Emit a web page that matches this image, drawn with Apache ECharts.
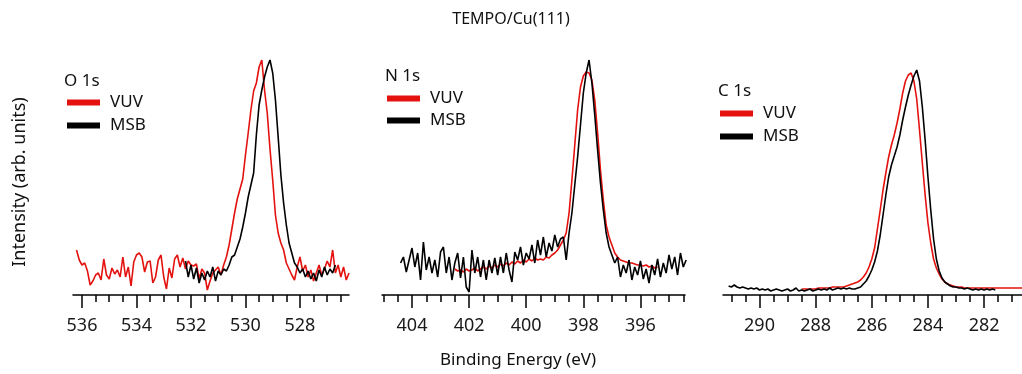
<!DOCTYPE html>
<html>
<head>
<meta charset="utf-8">
<script src="https://cdn.jsdelivr.net/npm/echarts@6/dist/echarts.min.js"></script>
<style>
  html, body { margin: 0; padding: 0; background: #fff; }
  #chart { width: 1022px; height: 374px; }
</style>
</head>
<body>
<div id="chart"></div>
<script>
// sampling step of the spectra (eV)
const step = 0.1;

// O 1s
const o1sVuvStart = 536.2;
const o1sVuv = [45, 35, 30, 32, 24, 10, 14, 20, 22, 15, 36, 20, 16, 27, 21, 25, 18, 38, 18, 28,
  9, 33, 40, 42, 38, 23, 33, 34, 12, 18, 35, 40, 18, 6, 27, 17, 36, 40, 28, 37,
  26, 34, 30, 29, 31, 16, 26, 22, 5, 14, 22, 25, 28, 20, 30, 38, 50, 66, 82, 96,
  106, 116, 140, 162, 185, 204, 212, 228, 235, 205, 182, 146, 115, 80, 62, 52, 45, 32, 26, 20,
  15, 28, 38, 24, 30, 18, 25, 14, 22, 30, 20, 26, 34, 28, 45, 22, 30, 18, 28, 15, 22];
const o1sMsbStart = 532.2;
const o1sMsb = [34, 18, 30, 16, 27, 12, 22, 15, 24, 18, 28, 14, 24, 20, 26, 24, 30, 38, 40, 48,
  56, 68, 82, 98, 110, 122, 160, 190, 205, 218, 228, 235, 222, 195, 158, 120, 92, 70, 52, 42,
  32, 28, 22, 26, 18, 24, 16, 22, 14, 25, 18, 28, 20, 26, 22, 30];

// N 1s
const n1sVuvStart = 402.5;
const n1sVuv = [26, 24, 25, 23, 26, 24, 25, 27, 24, 26, 28, 26, 29, 27, 30, 28, 31, 29, 32, 30,
  33, 31, 34, 32, 35, 33, 36, 34, 37, 35, 36, 35, 38, 37, 40, 42, 45, 50, 55, 62,
  82, 115, 150, 185, 208, 219, 223, 222, 215, 195, 162, 125, 95, 70, 58, 50, 42, 38, 35, 34,
  33, 32, 32, 31, 30, 30, 29, 30, 28, 29, 27, 28];
const n1sMsbStart = 404.4;
const n1sMsb = [32, 38, 23, 35, 47, 28, 42, 15, 53, 25, 38, 22, 35, 18, 43, 48, 22, 38, 15, 32,
  42, 17, 38, 8, 3, 45, 22, 38, 18, 35, 15, 35, 22, 37, 20, 38, 22, 42, 25, 13,
  43, 35, 48, 30, 42, 36, 50, 32, 55, 40, 58, 38, 52, 44, 60, 48, 56, 58, 35, 62,
  82, 110, 138, 170, 202, 222, 235, 212, 180, 145, 112, 85, 62, 48, 40, 32, 38, 18, 30, 22,
  35, 15, 28, 20, 34, 16, 26, 12, 30, 20, 36, 18, 32, 22, 40, 26, 38, 20, 42, 28, 35];

// C 1s
const c1sVuvStart = 288.5;
const c1sVuv = [6, 6, 6, 6, 6, 6, 7, 7, 7, 7, 7, 8, 8, 8, 8, 8, 9, 10, 11, 12,
  13, 15, 18, 22, 28, 36, 47, 66, 85, 105, 122, 138, 150, 160, 172, 186, 202, 214, 220, 222,
  214, 196, 165, 132, 100, 72, 52, 36, 27, 21, 16, 13, 11, 10, 9, 8, 8, 8, 7, 7,
  7, 7, 7, 7, 7, 7, 7, 7, 7, 7, 7, 7, 7, 7, 7, 7, 7, 7, 7, 7];
const c1sMsbStart = 291.1;
const c1sMsb = [9, 8, 10, 8, 7, 8, 7, 6, 7, 6, 7, 5, 6, 5, 6, 4, 5, 6, 5, 4,
  5, 6, 4, 5, 7, 4, 5, 4, 5, 6, 4, 5, 6, 5, 6, 5, 7, 5, 6, 7,
  6, 7, 6, 7, 6, 6, 7, 8, 11, 14, 19, 25, 33, 44, 60, 80, 100, 118, 130, 139,
  148, 160, 175, 188, 200, 210, 219, 225, 214, 188, 155, 118, 85, 56, 36, 24, 17, 13, 11, 9,
  8, 8, 7, 7, 6, 7, 6, 5, 6, 5, 6, 5, 6, 5, 6, 5];

// axis ticks
const o1sMajor = [536, 534, 532, 530, 528];
const o1sMinor = [535.5, 535, 534.5, 533.5, 533, 532.5, 531.5, 531, 530.5, 529.5, 529, 528.5, 527.5, 527, 526.5];
const n1sMajor = [404, 402, 400, 398, 396];
const n1sMinor = [405, 404.5, 403.5, 403, 402.5, 401.5, 401, 400.5, 399.5, 399, 398.5, 397.5, 397, 396.5, 395.5, 395, 394.5];
const c1sMajor = [290, 288, 286, 284, 282];
const c1sMinor = [291, 290.5, 289.5, 289, 288.5, 287.5, 287, 286.5, 285.5, 285, 284.5, 283.5, 283, 282.5, 281.5, 281];

const font = 'Noto Sans';
const red = '#e3120f';
const black = '#000000';

function toPairs(start, values) {
  return values.map((v, i) => [+(start - i * step).toFixed(2), v]);
}

const panels = [
  { label: 'O 1s', min: 526.2, max: 536.33, left: 73, right: 673, major: o1sMajor, minor: o1sMinor,
    vuv: toPairs(o1sVuvStart, o1sVuv), msb: toPairs(o1sMsbStart, o1sMsb),
    labelPos: [64, 73], legendPos: [67, 94], legendGap: 6 },
  { label: 'N 1s', min: 394.44, max: 405.05, left: 382, right: 337, major: n1sMajor, minor: n1sMinor,
    vuv: toPairs(n1sVuvStart, n1sVuv), msb: toPairs(n1sMsbStart, n1sMsb),
    labelPos: [385, 68], legendPos: [387, 90], legendGap: 5 },
  { label: 'C 1s', min: 280.65, max: 291.3, left: 723, right: 0, major: c1sMajor, minor: c1sMinor,
    vuv: toPairs(c1sVuvStart, c1sVuv), msb: toPairs(c1sMsbStart, c1sMsb),
    labelPos: [718, 83], legendPos: [720, 105], legendGap: 6 },
];

const grid = [], xAxis = [], yAxis = [], series = [], legend = [];
const title = [{
  text: 'TEMPO/Cu(111)', left: 'center', top: 11, padding: 0,
  textStyle: { fontFamily: font, fontSize: 16, fontWeight: 'normal', color: '#111' }
}, {
  text: 'Binding Energy (eV)', left: 440, top: 352, padding: 0,
  textStyle: { fontFamily: font, fontSize: 17, fontWeight: 'normal', color: '#111' }
}];

panels.forEach((p, i) => {
  grid.push({ left: p.left, right: p.right, top: 55, bottom: 79 });
  // main axis: line, major ticks, labels
  xAxis.push({
    type: 'value', gridIndex: i, position: 'bottom', inverse: true, min: p.min, max: p.max,
    axisLine: { show: true, onZero: false, lineStyle: { color: '#000', width: 1.5 } },
    axisTick: { show: true, length: 13, customValues: p.major, lineStyle: { color: '#000', width: 1.5 } },
    axisLabel: { show: true, customValues: p.major, margin: 22, fontFamily: font, fontSize: 18, color: '#1a1a1a' },
    splitLine: { show: false }
  });
  // minor ticks
  xAxis.push({
    type: 'value', gridIndex: i, position: 'bottom', inverse: true, min: p.min, max: p.max,
    axisLine: { show: false, onZero: false },
    axisTick: { show: true, length: 7, customValues: p.minor, lineStyle: { color: '#000', width: 1.5 } },
    axisLabel: { show: false },
    splitLine: { show: false }
  });
  yAxis.push({ type: 'value', gridIndex: i, min: 0, max: 240, show: false });

  series.push({
    name: 'VUV', type: 'line', xAxisIndex: i * 2, yAxisIndex: i, data: p.vuv,
    showSymbol: false, lineStyle: { color: red, width: 1.6 }, itemStyle: { color: red }, z: 2
  });
  series.push({
    name: 'MSB', type: 'line', xAxisIndex: i * 2, yAxisIndex: i, data: p.msb,
    showSymbol: false, lineStyle: { color: black, width: 1.6 }, itemStyle: { color: black }, z: 3
  });

  title.push({
    text: p.label, left: p.labelPos[0], top: p.labelPos[1], padding: 0,
    textStyle: { fontFamily: font, fontSize: 17, fontWeight: 'normal', color: '#111' }
  });
  legend.push({
    data: ['VUV', 'MSB'], orient: 'vertical', left: p.legendPos[0], top: p.legendPos[1],
    padding: 0, itemGap: p.legendGap, icon: 'rect', itemWidth: 33, itemHeight: 6,
    selectedMode: false,
    textStyle: { fontFamily: font, fontSize: 17, color: '#111', padding: [0, 0, 0, 5] }
  });
});

const chart = echarts.init(document.getElementById('chart'));
chart.setOption({
  animation: false,
  backgroundColor: '#fff',
  title: title,
  legend: legend,
  grid: grid,
  xAxis: xAxis,
  yAxis: yAxis,
  series: series,
  graphic: [{
    type: 'text', x: 20, y: 182, rotation: Math.PI / 2,
    style: { text: 'Intensity (arb. units)', fontFamily: font, fontSize: 18, fill: '#111', align: 'center', verticalAlign: 'middle' }
  }]
});
</script>
</body>
</html>
